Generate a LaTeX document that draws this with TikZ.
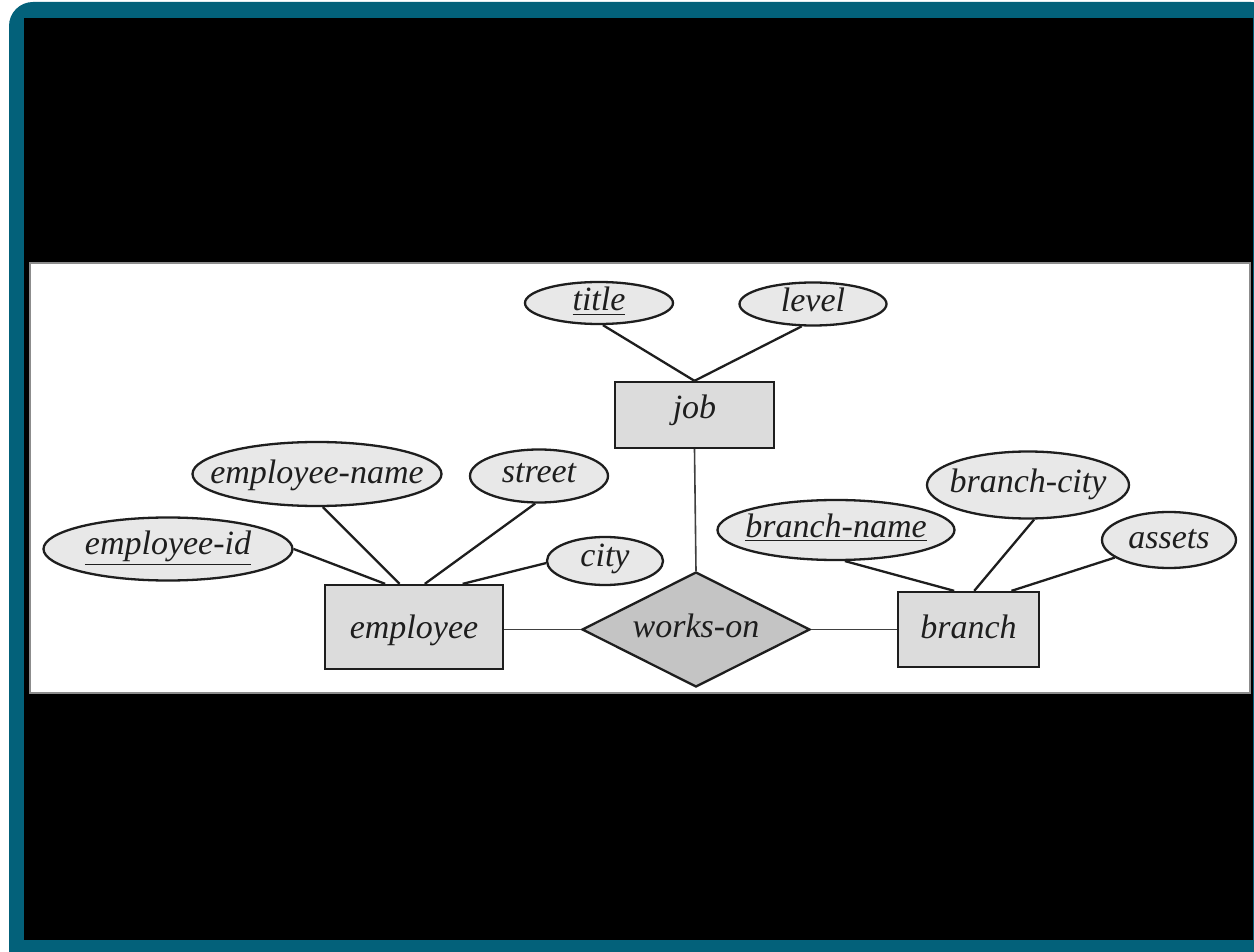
\documentclass[tikz,border=0pt]{standalone}
\usepackage{fontspec}
\setmainfont{Liberation Serif}
\usetikzlibrary{shapes.geometric,calc}
\definecolor{frameteal}{RGB}{3,97,122}
\definecolor{attrfill}{RGB}{232,232,232}
\definecolor{entfill}{RGB}{220,220,220}
\definecolor{relfill}{RGB}{196,196,196}
\definecolor{inkcol}{RGB}{30,30,30}
% label text that does not widen its shape
\newcommand{\lbl}[1]{\makebox[0pt]{#1}}
\begin{document}
\begin{tikzpicture}[x=0.5pt,y=-0.5pt,
  every node/.style={font=\fontsize{17}{20}\selectfont\itshape, text=inkcol, inner sep=0pt,
    text height=10pt, text depth=2pt},
  attr/.style={ellipse, draw=inkcol, line width=1.15pt, fill=attrfill},
  entity/.style={rectangle, draw=inkcol, line width=1.15pt, fill=entfill},
  rel/.style={diamond, shape aspect=2, draw=inkcol, line width=1.15pt, fill=relfill},
  attrline/.style={draw=inkcol, line width=1.15pt},
  relline/.style={draw=black!75, line width=0.8pt}]
\useasboundingbox (0,0) rectangle (1254,952);
% page frame
\fill[white] (0,0) rectangle (1254,952);
\fill[frameteal, rounded corners=12pt] (9,2) rectangle (1275,975);
\fill[black] (24,18) rectangle (1252.5,940);
\fill[white] (30,263) rectangle (1250,693);
\draw[black!45, line width=0.6pt] (30,263) rectangle (1250,693);

% entities and relationship
\node[entity, minimum width=89pt, minimum height=42pt, text height=13pt] (emp) at (414,627) {\lbl{employee}};
\node[entity, minimum width=79.5pt, minimum height=33pt, text height=6pt] (job) at (694.5,415) {\lbl{job}};
\node[entity, minimum width=70.5pt, minimum height=37.5pt, text height=10.5pt] (branch) at (968.5,629.5) {\lbl{branch}};
\node[rel, minimum width=114pt, minimum height=57.5pt, text height=9.5pt] (wo) at (696,629.5) {\lbl{works-on}};

% attributes
\node[attr, minimum width=74pt, minimum height=21pt] (title) at (599,303) {\lbl{\underline{title}}};
\node[attr, minimum width=73.5pt, minimum height=21.5pt] (level) at (813,304) {\lbl{level}};
\node[attr, minimum width=124.5pt, minimum height=32pt, text height=11pt] (ename) at (317,474) {\lbl{employee-name}};
\node[attr, minimum width=69pt, minimum height=26.5pt, text height=8pt] (street) at (539,476) {\lbl{street}};
\node[attr, minimum width=124.5pt, minimum height=31.5pt, text height=7pt] (eid) at (168,549) {\lbl{\underline{employee-id}}};
\node[attr, minimum width=58pt, minimum height=24pt, text height=7pt] (city) at (605,561) {\lbl{city}};
\node[attr, minimum width=118.5pt, minimum height=30pt, text height=9pt] (bname) at (836,530) {\lbl{\underline{branch-name}}};
\node[attr, minimum width=101pt, minimum height=33.5pt] (bcity) at (1028,485) {\lbl{branch-city}};
\node[attr, minimum width=67pt, minimum height=28pt] (assets) at (1169,540) {\lbl{assets}};

% meeting points on the top edges of the entity boxes
\coordinate (e1) at ($(emp.north west)!0.34!(emp.north east)$);
\coordinate (e2) at ($(emp.north west)!0.42!(emp.north east)$);
\coordinate (e3) at ($(emp.north west)!0.56!(emp.north east)$);
\coordinate (e4) at ($(emp.north west)!0.77!(emp.north east)$);
\coordinate (b1) at ($(branch.north west)!0.40!(branch.north east)$);
\coordinate (b2) at ($(branch.north west)!0.54!(branch.north east)$);
\coordinate (b3) at ($(branch.north west)!0.80!(branch.north east)$);

% attribute links
\draw[attrline] (title.-80) -- (job.north);
\draw[attrline] (level.-117) -- (job.north);
\draw[attrline] (eid.east) -- (e1);
\draw[attrline] (ename.-80) -- (e2);
\draw[attrline] (street.-98) -- (e3);
\draw[attrline] (city.182) -- (e4);
\draw[attrline] (bname.-74) -- (b1);
\draw[attrline] (bcity.-80) -- (b2);
\draw[attrline] (assets.198) -- (b3);

% relationship links
\draw[relline] (job.south) -- (wo.north);
\draw[relline] (wo.west) -- (wo.west -| emp.east);
\draw[relline] (wo.east) -- (branch.west);
\end{tikzpicture}
\end{document}
